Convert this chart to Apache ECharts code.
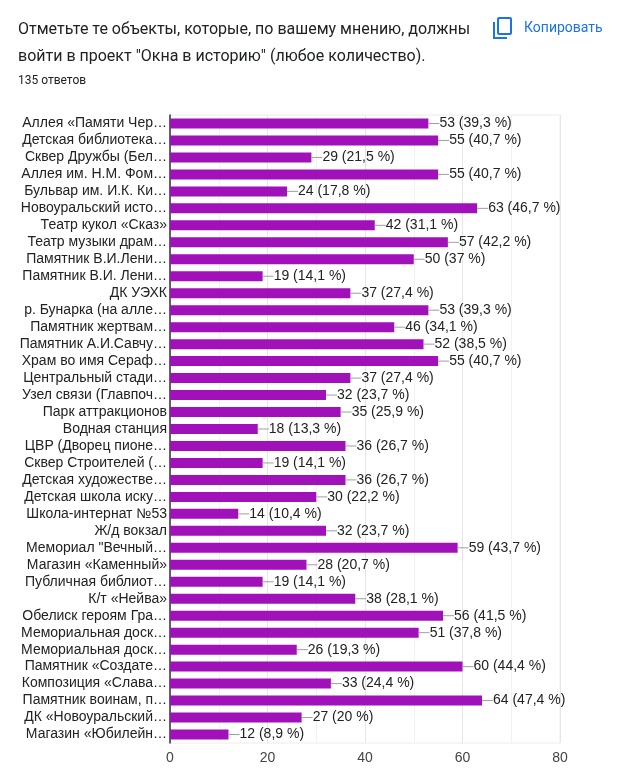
<!DOCTYPE html>
<html>
<head>
<meta charset="utf-8">
<script src="https://cdn.jsdelivr.net/npm/echarts@6/dist/echarts.min.js"></script>
<style>
html,body{margin:0;padding:0;background:#fff;}
#chart{width:632px;height:768px;}
</style>
</head>
<body>
<div id="chart"></div>
<script>
const categories = [
  'Аллея «Памяти Чер…', 'Детская библиотека…', 'Сквер Дружбы (Бел…', 'Аллея им. Н.М. Фом…',
  'Бульвар им. И.К. Ки…', 'Новоуральский исто…', 'Театр кукол «Сказ»', 'Театр музыки драм…',
  'Памятник В.И.Лени…', 'Памятник В.И. Лени…', 'ДК УЭХК', 'р. Бунарка (на алле…',
  'Памятник жертвам…', 'Памятник А.И.Савчу…', 'Храм во имя Сераф…', 'Центральный стади…',
  'Узел связи (Главпоч…', 'Парк аттракционов', 'Водная станция', 'ЦВР (Дворец пионе…',
  'Сквер Строителей (…', 'Детская художестве…', 'Детская школа иску…', 'Школа-интернат №53',
  'Ж/д вокзал', 'Мемориал "Вечный…', 'Магазин «Каменный»', 'Публичная библиот…',
  'К/т «Нейва»', 'Обелиск героям Гра…', 'Мемориальная доск…', 'Мемориальная доск…',
  'Памятник «Создате…', 'Композиция «Слава…', 'Памятник воинам, п…', 'ДК «Новоуральский…',
  'Магазин «Юбилейн…'
];
const counts = [53, 55, 29, 55, 24, 63, 42, 57, 50, 19, 37, 53, 46, 52, 55, 37, 32, 35, 18, 36,
  19, 36, 30, 14, 32, 59, 28, 19, 38, 56, 51, 26, 60, 33, 64, 27, 12];
const percents = ['39,3', '40,7', '21,5', '40,7', '17,8', '46,7', '31,1', '42,2', '37', '14,1',
  '27,4', '39,3', '34,1', '38,5', '40,7', '27,4', '23,7', '25,9', '13,3', '26,7', '14,1', '26,7',
  '22,2', '10,4', '23,7', '43,7', '20,7', '14,1', '28,1', '41,5', '37,8', '19,3', '44,4', '24,4',
  '47,4', '20', '8,9'];
const xTicks = [0, 20, 40, 60, 80];

const chart = echarts.init(document.getElementById('chart'));
const FONT = '"Liberation Sans", Arial, sans-serif';
chart.setOption({
  animation: false,
  backgroundColor: '#fff',
  graphic: [
    { type: 'text', left: 18, top: 16, style: { text: 'Отметьте те объекты, которые, по вашему мнению, должны\nвойти в проект "Окна в историю" (любое количество).', font: '16px Roboto, "Noto Sans", sans-serif', fill: '#202124', lineHeight: 27 } },
    { type: 'text', left: 18, top: 75, style: { text: '135 ответов', font: '12px Roboto, sans-serif', fill: '#202124' } },
    { type: 'rect', shape: { x: 498, y: 18, width: 13, height: 16, r: 1 }, style: { fill: 'none', stroke: '#1a73e8', lineWidth: 2 } },
    { type: 'polyline', shape: { points: [[494, 22], [494, 38], [507, 38]] }, style: { fill: 'none', stroke: '#1a73e8', lineWidth: 2 } },
    { type: 'text', left: 524, top: 21, style: { text: 'Копировать', font: '14px Roboto, sans-serif', fill: '#1a73e8' } }
  ],
  grid: { left: 170, right: 72, top: 115, bottom: 25, show: true, borderColor: '#ececec', borderWidth: 1 },
  xAxis: {
    type: 'value', min: 0, max: 80, interval: 20,
    axisLine: { show: false }, axisTick: { show: false },
    axisLabel: { color: '#444', fontSize: 14, fontFamily: FONT, margin: 8,
      formatter: v => xTicks.includes(v) ? String(v) : '' },
    splitLine: { show: true, lineStyle: { color: '#e6e6e6' } },
    minorTick: { show: false, splitNumber: 2 },
    minorSplitLine: { show: true, lineStyle: { color: '#f2f2f2' } }
  },
  yAxis: {
    type: 'category', data: categories, inverse: true,
    axisLine: { show: true, lineStyle: { color: '#333', width: 1.5 } },
    axisTick: { show: false },
    axisLabel: { color: '#222', fontSize: 14, fontFamily: FONT, margin: 3, interval: 0 }
  },
  series: [{
    type: 'bar',
    data: counts,
    barWidth: 10,
    itemStyle: { color: '#a011b9' },
    label: {
      show: true, position: 'right', distance: 0,
      formatter: p => '{ln|}{t|' + p.value + ' (' + percents[p.dataIndex] + ' %)}',
      rich: {
        ln: { width: 11, height: 1, backgroundColor: '#9e9e9e', verticalAlign: 'middle' },
        t: { color: '#222', fontSize: 14, fontFamily: FONT, verticalAlign: 'middle' }
      }
    }
  }]
});
</script>
</body>
</html>
